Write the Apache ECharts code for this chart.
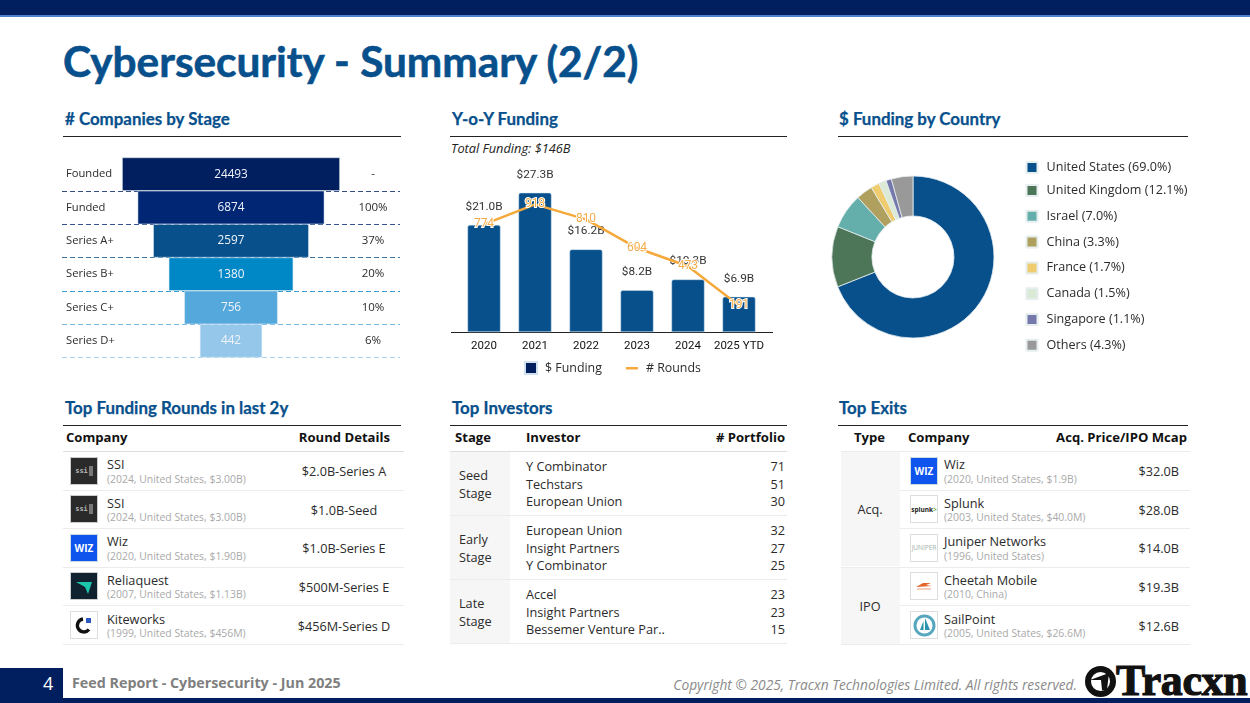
<!DOCTYPE html>
<html><head><meta charset="utf-8">
<script src="https://cdn.jsdelivr.net/npm/echarts@6/dist/echarts.min.js"></script>
<style>
html,body{margin:0;padding:0;background:#fff}
#page{position:relative;width:1250px;height:703px;overflow:hidden;font-family:"Open Sans",sans-serif;color:#222}
.a{position:absolute;white-space:nowrap;line-height:1}
.chart{position:absolute}
.h{color:#07508c;font-weight:700;font-size:16.9px;font-family:Lato,sans-serif;-webkit-text-stroke:.25px #07508c}
.rule{position:absolute;height:1px;background:#222}
.th{font-weight:700;font-size:13.1px;color:#111}
.t{font-size:12.7px;color:#2b2b2b}
.s{font-size:10.4px;color:#a9a9a9}
.ln{position:absolute;height:1px;background:#ececec}
.logo{position:absolute;width:28px;height:28px;box-sizing:border-box;border:1px solid #ddd;background:#fff;display:flex;align-items:center;justify-content:center;overflow:hidden;line-height:1}
</style></head><body><div id="page"></div>
<script>
// ---- Data ----
const stageNames = ['Founded','Funded','Series A+','Series B+','Series C+','Series D+'];
const stageCounts = [24493,6874,2597,1380,756,442];
const stagePercents = ['-','100%','37%','20%','10%','6%'];
const stageFunnelSteps = [7,6,5,4,3,2];
const stageColors = ['#011f5e','#012674','#07508c','#0088c6','#54a8dc','#95c7ea'];

const years = ['2020','2021','2022','2023','2024','2025 YTD'];
const fundingB = [21.0,27.3,16.2,8.2,10.3,6.9];
const rounds = [774,918,810,604,473,191];

const countries = ['United States','United Kingdom','Israel','China','France','Canada','Singapore','Others'];
const countryShare = [69.0,12.1,7.0,3.3,1.7,1.5,1.1,4.3];
const countryColors = ['#07508c','#4d7558','#64aeab','#b0a05f','#efcd6e','#dbe9d7','#7478aa','#999999'];

const roundCompanies = ['SSI','SSI','Wiz','Reliaquest','Kiteworks'];
const roundSubs = ['(2024, United States, $3.00B)','(2024, United States, $3.00B)','(2020, United States, $1.90B)','(2007, United States, $1.13B)','(1999, United States, $456M)'];
const roundDetails = ['$2.0B-Series A','$1.0B-Seed','$1.0B-Series E','$500M-Series E','$456M-Series D'];

const investorStages = [['Seed','Stage'],['Early','Stage'],['Late','Stage']];
const investorNames = [['Y Combinator','Techstars','European Union'],['European Union','Insight Partners','Y Combinator'],['Accel','Insight Partners','Bessemer Venture Par..']];
const investorCounts = [[71,51,30],[32,27,25],[23,23,15]];

const exitCompanies = ['Wiz','Splunk','Juniper Networks','Cheetah Mobile','SailPoint'];
const exitSubs = ['(2020, United States, $1.9B)','(2003, United States, $40.0M)','(1996, United States)','(2010, China)','(2005, United States, $26.6M)'];
const exitValues = ['$32.0B','$28.0B','$14.0B','$19.3B','$12.6B'];

// ---- Page shell ----
const page = document.getElementById('page');
function el(cls, css, html){const d=document.createElement('div');d.className=cls;d.style.cssText=css;if(html!==undefined)d.innerHTML=html;page.appendChild(d);return d;}
function text(cls,x,cy,s,extra){
  return el('a '+cls,`left:${x}px;top:${cy}px;transform:translateY(-50%);${extra||''}`,s);
}
function rtext(cls,r,cy,s){return el('a '+cls,`right:${1250-r}px;top:${cy}px;transform:translateY(-50%);`,s);}
function ctext(cls,c,cy,s){return el('a '+cls,`left:${c}px;top:${cy}px;transform:translate(-50%,-50%);`,s);}

el('', 'position:absolute;left:0;top:0;width:1250px;height:15px;background:#011f5e');
el('', 'position:absolute;left:0;top:15px;width:1250px;height:1.5px;background:#4f80cc');
el('', 'position:absolute;left:0;top:698px;width:1250px;height:5px;background:#011f5e');
el('', 'position:absolute;left:0;top:668px;width:63px;height:30px;background:#011f5e');
text('',43,683,'4','color:#fff;font-size:18px');
text('',72,683,'Feed Report - Cybersecurity - Jun 2025','color:#7f7f7f;font-weight:700;font-size:14.3px');
rtext('',1077,684,'<span style="color:#8a8a8a;font-style:italic;font-size:13.75px">Copyright © 2025, Tracxn Technologies Limited. All rights reserved.</span>');
el('a','left:1085px;top:666px;width:31px;height:31px;','<svg width="31" height="31" viewBox="0 0 31 31"><circle cx="15.5" cy="15.5" r="12.5" fill="none" stroke="#111" stroke-width="6"/><path d="M5 14 L24 7 L22 24 L17 24 L16 14 Z" fill="#111"/></svg>');
text('',1116,681,'Tracxn','font-family:\'Liberation Serif\',serif;font-weight:700;font-size:43.8px;color:#111;-webkit-text-stroke:1.2px #111;letter-spacing:-0.3px');

text('',63,61,'Cybersecurity - Summary (2/2)','color:#07508c;font-weight:700;font-size:42.3px;font-family:Lato,sans-serif;-webkit-text-stroke:.6px #07508c');

[[65,119,'# Companies by Stage'],[452,119,'Y-o-Y Funding'],[839,119,'$ Funding by Country'],[65,408,'Top Funding Rounds in last 2y'],[452,408,'Top Investors'],[839,408,'Top Exits']]
 .forEach(h=>text('h',h[0],h[1],h[2]));
[[63,338,136],[450,337,136],[838,350,136],[63,338,425],[450,337,425],[838,350,425]]
 .forEach(r=>el('rule',`left:${r[0]}px;width:${r[1]}px;top:${r[2]}px`));
text('',451,148,'Total Funding: $146B','font-style:italic;font-size:12.8px;color:#222');

// ---- Logos ----
function logo(kind,x,y){
  const pos=`left:${x}px;top:${y}px;`;
  if(kind==='SSI') return el('logo',pos+'background:#2a2a2a;border-color:#ccc;color:#bbb;font:700 7px "DejaVu Sans Mono",monospace','ssi<span style="display:inline-block;width:4px;height:10px;background:#777;margin-left:1px"></span>');
  if(kind==='Wiz') return el('logo',pos+'background:#0f54ec;border-color:#cdd;color:#fff;font:700 10px "Open Sans",sans-serif','WIZ');
  if(kind==='Reliaquest') return el('logo',pos+'background:#10222f;border-color:#ccc','<svg width="20" height="20" viewBox="0 0 20 20"><path d="M2 6 H18 L14 18 L11 11 Z" fill="#1cc6ac"/></svg>');
  if(kind==='Kiteworks') return el('logo',pos,'<svg width="20" height="20" viewBox="0 0 20 20"><path d="M15 14.5 A6.5 6.5 0 1 1 9 4" fill="none" stroke="#111" stroke-width="3.4"/><rect x="12" y="3" width="5" height="5" fill="#2b59c3"/></svg>');
  if(kind==='Splunk') return el('logo',pos+'color:#222;font:700 6.5px "Open Sans",sans-serif','splunk<span style="color:#6a3">&gt;</span>');
  if(kind==='Juniper Networks') return el('logo',pos+'color:#9fb0a8;font:6.5px "Open Sans",sans-serif','JUNIPER');
  if(kind==='Cheetah Mobile') return el('logo',pos,'<svg width="18" height="8" viewBox="0 0 18 8"><path d="M1 5 L8 1 L16 1 L11 3 L17 4 L1 5Z" fill="#e4662c"/><rect x="2" y="6.5" width="14" height="1" fill="#f0a080"/></svg>');
  if(kind==='SailPoint') return el('logo',pos,'<svg width="23" height="23" viewBox="0 0 23 23"><circle cx="11.5" cy="11.5" r="9.5" fill="none" stroke="#57a8bf" stroke-width="3"/><path d="M12 4 L17 16 H12 Z M10.5 7 L7 16 H10.5 Z" fill="#2b93b0"/></svg>');
}

// ---- Tables ----
const rowTops = [451,489.5,528,566.5,605.5];
// Top funding rounds
text('th',66,438,'Company'); rtext('th',390,438,'Round Details');
el('ln','left:63px;width:341px;top:451px;background:#ddd');
roundCompanies.forEach((n,i)=>{
  const top=rowTops[i];
  logo(n,70,top+5.5);
  text('t',107,top+13.3,n);
  text('s',107,top+27.8,roundSubs[i]);
  ctext('t',344,top+20,roundDetails[i]);
  el('ln',`left:63px;width:341px;top:${top+38.5}px`);
});
// Top investors
text('th',455,438,'Stage'); text('th',526,438,'Investor'); rtext('th',785,438,'# Portfolio');
el('ln','left:450px;width:337px;top:451px;background:#ddd');
const invTops=[451.5,515.5,579.5];
invTops.forEach((t,i)=>{
  el('',`position:absolute;left:450px;width:60px;top:${t}px;height:63px;background:#f6f6f6`);
  text('t',459,t+23.5,investorStages[i][0]);
  text('t',459,t+41,investorStages[i][1]);
  investorNames[i].forEach((n,j)=>{
    text('t',526,t+14.5+j*17.5,n);
    rtext('t',785,t+14.5+j*17.5,String(investorCounts[i][j]));
  });
  el('ln',`left:450px;width:337px;top:${t+63}px`);
});
// Top exits
text('th',854,438,'Type'); text('th',908,438,'Company'); rtext('th',1187,438,'Acq. Price/IPO Mcap');
el('ln','left:841px;width:349px;top:451px');
el('','position:absolute;left:841px;width:59px;top:451.5px;height:114px;background:#f6f6f6');
el('','position:absolute;left:841px;width:59px;top:567px;height:77px;background:#f6f6f6');
ctext('t',870,509,'Acq.'); ctext('t',870,606,'IPO');
exitCompanies.forEach((n,i)=>{
  const top=rowTops[i];
  logo(n,910,top+5.5);
  text('t',944,top+13.3,n);
  text('s',944,top+27.8,exitSubs[i]);
  rtext('t',1179,top+20,exitValues[i]);
  el('ln',`left:${i===2||i===4?841:900}px;width:${i===2||i===4?349:290}px;top:${top+38.5}px`);
});

// ---- Charts ----
el('', 'position:absolute;left:451px;top:332px;width:322px;height:1px;background:#222');
function mount(x,y,w,h){const d=el('chart',`left:${x}px;top:${y}px;width:${w}px;height:${h}px`);return echarts.init(d,null,{renderer:'canvas'});}
const fam='"Open Sans",sans-serif';

// Funnel: centred rectangles built from a stacked bar on a band axis
const stageChart = mount(55,145,355,225);
const stepUnit=31.1, gridW=338;
const span=gridW/stepUnit, pad0=(span-7)/2;
stageChart.setOption({
  animation:false,
  grid:{left:7,top:12.5,width:gridW,height:200},
  xAxis:{type:'value',min:-pad0,max:7+pad0,show:false},
  yAxis:[{type:'category',inverse:true,data:stageNames,
    axisLine:{show:false},axisTick:{show:false},
    axisLabel:{inside:true,margin:4,color:'#2b2b2b',fontFamily:fam,fontSize:11.2,align:'left'},
    splitLine:{show:true,lineStyle:{type:[5,3],width:1,opacity:0.8,color:['rgba(0,0,0,0)',stageColors[0],stageColors[1],stageColors[2],stageColors[3],stageColors[4],stageColors[5]]}}},
   {type:'category',inverse:true,position:'right',data:stagePercents,
    axisLine:{show:false},axisTick:{show:false},splitLine:{show:false},
    axisLabel:{inside:true,margin:27,color:'#2b2b2b',fontFamily:fam,fontSize:11.5,align:'center'}}],
  series:[
   {type:'bar',stack:'f',silent:true,barCategoryGap:0,data:stageFunnelSteps.map(v=>(7-v)/2),itemStyle:{color:'rgba(0,0,0,0)'}},
   {type:'bar',stack:'f',barCategoryGap:0,
    data:stageFunnelSteps.map((v,i)=>({value:v,itemStyle:{color:stageColors[i],borderColor:'#dfeaf5',borderWidth:0.5}})),
    label:{show:true,position:'inside',color:'#f0f4fa',fontFamily:fam,fontSize:11.8,formatter:p=>String(stageCounts[p.dataIndex])}}
  ]
});

// Y-o-Y
const yoy = mount(445,150,340,235);
yoy.setOption({
  animation:false,
  textStyle:{fontFamily:fam},
  legend:{left:74,top:206,itemWidth:12,itemHeight:12,itemGap:24,
    textStyle:{fontFamily:fam,fontSize:12.4,color:'#2b2b2b',padding:[0,0,0,3]},
    data:[{name:'$ Funding',icon:'rect',itemStyle:{color:'#011f5e'}},
          {name:'# Rounds',icon:'path://M0 0h.01v.01h-.01z M0 10H24V15H0Z M0 24h.01v-.01h-.01z'}]},
  grid:{left:13.5,top:12,width:306,height:170},
  xAxis:{type:'category',data:years,axisLine:{show:false},axisTick:{show:false},
    axisLabel:{color:'#111',fontFamily:'Roboto,sans-serif',fontSize:11.5,margin:8,interval:0}},
  yAxis:[{type:'value',min:0,max:170/5.1,show:false,splitLine:{show:false}},
         {type:'value',min:0,max:170/0.139,show:false,splitLine:{show:false}}],
  series:[
   {name:'$ Funding',type:'bar',barWidth:33,data:fundingB,
    itemStyle:{color:'#07508c',borderRadius:[2,2,0,0],borderColor:'#cfe0ee',borderWidth:0.5},
    label:{show:true,position:'top',distance:12,color:'#333',fontFamily:'Roboto,sans-serif',fontSize:11.8,formatter:p=>'$'+p.value.toFixed(1)+'B'}},
   {name:'# Rounds',type:'line',yAxisIndex:1,data:rounds,symbol:'circle',symbolSize:1,z:5,
    lineStyle:{color:'#f5a93b',width:2.5},itemStyle:{color:'#f5a93b'},
    label:{show:true,position:'inside',color:'#f5ad4c',fontFamily:'Roboto,sans-serif',fontSize:12,textBorderColor:'#fff',textBorderWidth:2}}
  ]
});

// Donut
const donut = mount(825,150,385,215);
const shareFmt = name => name+' ('+countryShare[countries.indexOf(name)].toFixed(1)+'%)';
const legendBase = {orient:'vertical',left:195.5,itemWidth:11,itemHeight:11,icon:'rect',formatter:shareFmt,
  textStyle:{fontFamily:fam,fontSize:12.6,color:'#2b2b2b',padding:[0,0,0,4]}};
donut.setOption({
  animation:false,
  color:countryColors,
  legend:[
    Object.assign({},legendBase,{top:6,data:countries.slice(0,1)}),
    Object.assign({},legendBase,{top:29,itemGap:12.8,data:countries.slice(1)})
  ],
  series:[{type:'pie',center:[88,107],radius:[41,81],startAngle:90,clockwise:true,label:{show:false},labelLine:{show:false},
    itemStyle:{borderColor:'#e6eef0',borderWidth:0.8},
    data:countries.map((n,i)=>({name:n,value:countryShare[i]}))}]
});
</script></body></html>
